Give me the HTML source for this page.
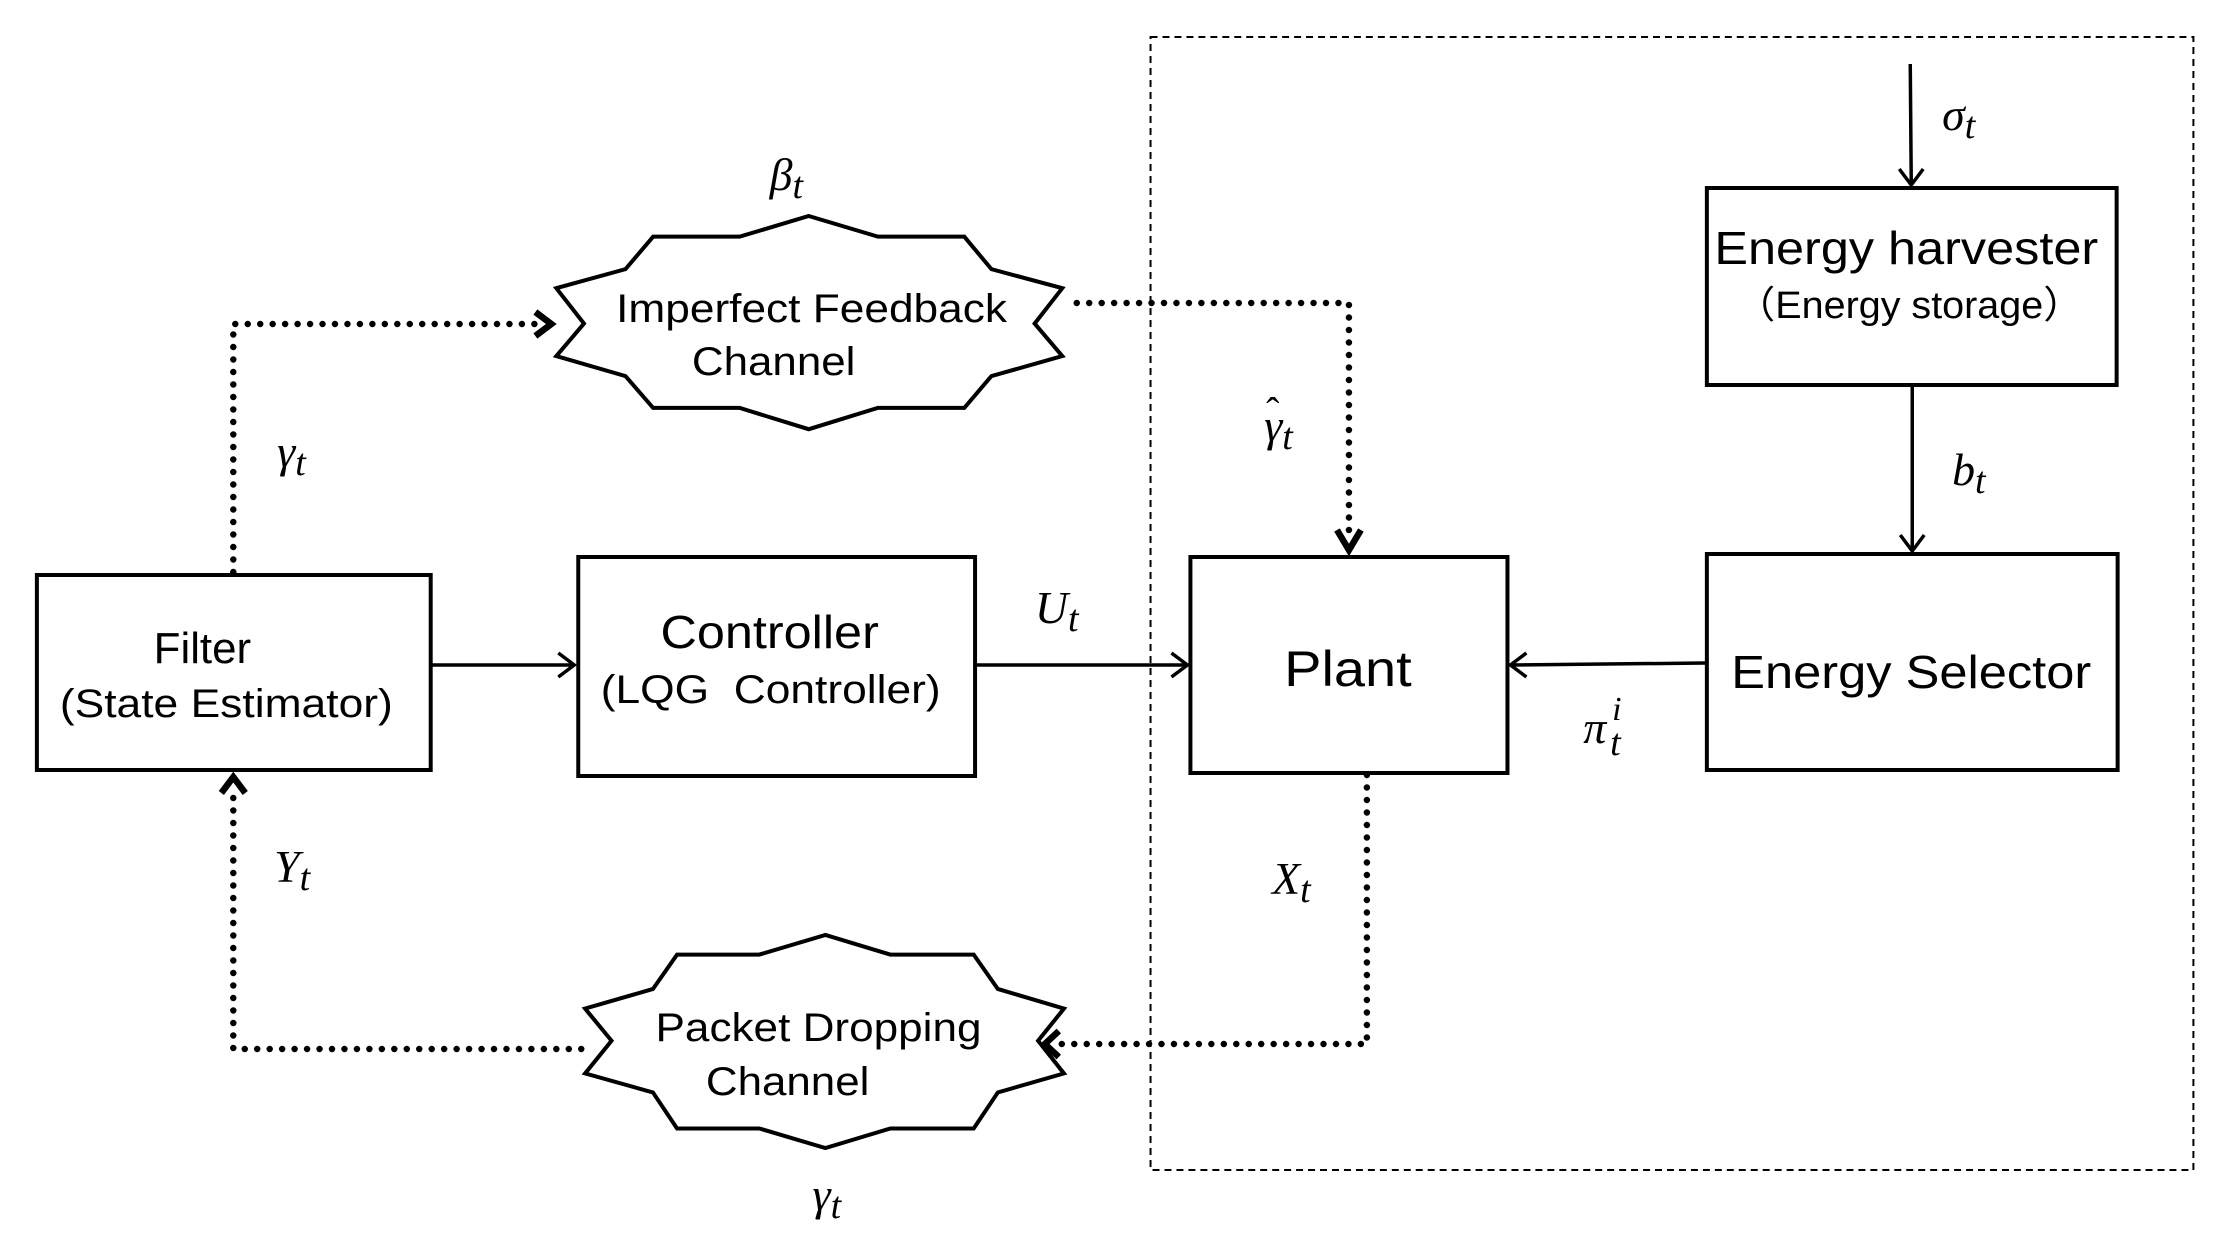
<!DOCTYPE html>
<html><head><meta charset="utf-8"><style>
html,body{margin:0;padding:0;background:#fff;}
svg{display:block;}
.t{font-family:"Liberation Sans",Arial,sans-serif;fill:#000;text-anchor:middle;}
.m{font-family:"Liberation Serif","DejaVu Serif",serif;font-style:italic;fill:#000;}
</style></head><body>
<svg width="2221" height="1250" viewBox="0 0 2221 1250" xmlns="http://www.w3.org/2000/svg">
<g transform="scale(0.997,1)">
<rect x="1154" y="37" width="1046" height="1133" fill="none" stroke="#000" stroke-width="2" stroke-dasharray="7,5"/>

<g fill="#fff" stroke="#000" stroke-width="4">
<rect x="37" y="575" width="395" height="195"/>
<rect x="580" y="557" width="398" height="219"/>
<rect x="1194" y="557" width="318" height="216"/>
<rect x="1712" y="554" width="412" height="216"/>
<rect x="1712" y="188" width="411" height="197"/>
</g>

<g fill="#fff" stroke="#000" stroke-width="4" stroke-linejoin="miter">
<polygon vector-effect="non-scaling-stroke" transform="translate(500.2,153.7) scale(0.578,0.328)" points="538,190 658,253 808,253 855,352 978,410 930,518 978,617 855,678 808,775 658,775 538,840 418,775 268,775 220,678 100,617 148,518 100,410 220,352 268,253 418,253"/>
<polygon vector-effect="non-scaling-stroke" transform="translate(551.1,903.2) scale(0.5766,0.3274)" points="480,97 593,157 738,157 780,262 895,322 850,420 895,520 780,578 738,688 593,688 480,748 365,688 222,688 180,578 62,520 108,420 62,322 180,262 222,157 365,157"/>
</g>

<g stroke="#000" stroke-width="3.5" fill="none">
<line x1="432" y1="665" x2="574" y2="665"/><polyline points="560,653 576,665 560,677"/>
<line x1="978" y1="665" x2="1189" y2="665"/><polyline points="1175,653 1191,665 1175,677"/>
<line x1="1711" y1="663" x2="1517" y2="665"/><polyline points="1531,653 1515,665 1531,677"/>
<line x1="1916" y1="64" x2="1917" y2="183"/><polyline points="1905,169 1917,185 1929,169"/>
<line x1="1918" y1="385" x2="1918" y2="549"/><polyline points="1906,535 1918,551 1930,535"/>
</g>

<g stroke="#000" stroke-width="6.5" fill="none" stroke-linecap="round" stroke-dasharray="0,12.5">
<polyline points="234,572 234,324 540,324"/>
<polyline points="1080,303 1353,303 1353,540"/>
<polyline points="1371,775 1371,1044 1060,1044"/>
<polyline points="583,1049 234,1049 234,790"/>
</g>
<g stroke="#000" stroke-width="6.5" fill="none" stroke-linejoin="miter">
<polyline points="537,312 553,324 537,336"/>
<polyline points="1341,530 1353,550 1365,530"/>
<polyline points="1062,1031 1048,1044 1062,1057"/>
<polyline points="222,793 234,777 246,793"/>
</g>

<text class="t" x="203" y="663" font-size="44">Filter</text>
<text class="t" x="227" y="717" font-size="40" textLength="334" lengthAdjust="spacingAndGlyphs">(State Estimator)</text>
<text class="t" x="772" y="648" font-size="46" textLength="219" lengthAdjust="spacingAndGlyphs">Controller</text>
<text class="t" x="773" y="703" font-size="40" textLength="341" lengthAdjust="spacingAndGlyphs" xml:space="preserve">(LQG  Controller)</text>
<text class="t" x="1352" y="686" font-size="50" textLength="128" lengthAdjust="spacingAndGlyphs">Plant</text>
<text class="t" x="1917" y="688" font-size="46" textLength="361" lengthAdjust="spacingAndGlyphs">Energy Selector</text>
<text class="t" x="1912" y="264" font-size="46" textLength="385" lengthAdjust="spacingAndGlyphs">Energy harvester</text>
<text class="t" x="1915" y="318" font-size="38" textLength="348" lengthAdjust="spacingAndGlyphs" style='font-family:"Liberation Sans","Noto Sans CJK SC",sans-serif'>（Energy storage）</text>

<text class="t" x="814" y="322" font-size="40" textLength="392" lengthAdjust="spacingAndGlyphs">Imperfect Feedback</text>
<text class="t" x="776" y="375" font-size="40" textLength="164" lengthAdjust="spacingAndGlyphs">Channel</text>
<text class="t" x="821" y="1041" font-size="40" textLength="327" lengthAdjust="spacingAndGlyphs">Packet Dropping</text>
<text class="t" x="790" y="1095" font-size="40" textLength="164" lengthAdjust="spacingAndGlyphs">Channel</text>

<g font-size="46">
<text class="m" x="772" y="190">β<tspan font-size="38" dy="8">t</tspan></text>
<text class="m" x="278" y="467">γ<tspan font-size="38" dy="8">t</tspan></text>
<text class="m" x="1268" y="441">γ<tspan font-size="38" dy="8">t</tspan></text>
<text class="m" x="1270" y="425" font-size="40" style="font-style:normal">ˆ</text>
<text class="m" x="1038" y="623">U<tspan font-size="38" dy="8">t</tspan></text>
<text class="m" x="1948" y="130">σ<tspan font-size="38" dy="8">t</tspan></text>
<text class="m" x="1958" y="485">b<tspan font-size="38" dy="8">t</tspan></text>
<text class="m" x="1588" y="743">π</text>
<text class="m" x="1617" y="720" font-size="34">i</text>
<text class="m" x="1615" y="755" font-size="38">t</text>
<text class="m" x="1276" y="894">X<tspan font-size="38" dy="8">t</tspan></text>
<text class="m" x="275" y="882">Y<tspan font-size="38" dy="8">t</tspan></text>
<text class="m" x="815" y="1210">γ<tspan font-size="38" dy="8">t</tspan></text>
</g>
</g>
</svg>
</body></html>
